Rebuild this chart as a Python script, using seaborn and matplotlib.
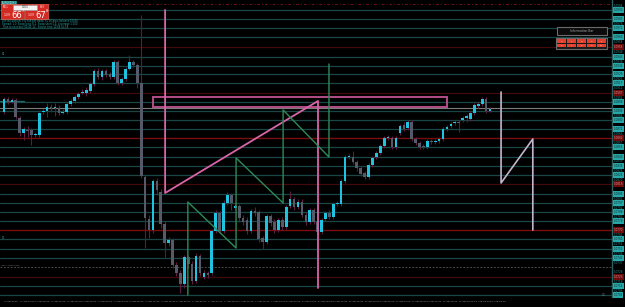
import numpy as np
import pandas as pd
import matplotlib
matplotlib.use("Agg")
import matplotlib.pyplot as plt
import matplotlib.transforms as mtransforms
from matplotlib.patches import Rectangle
import seaborn as sns

# ---------------- data (prices in points, price = pts / 10000) ----------------
opens = [10888, 10901, 10898, 10900, 10882, 10867, 10870, 10870, 10865, 10865,
         10888, 10889, 10893, 10892, 10892, 10887, 10888, 10896, 10899, 10903,
         10907, 10907, 10909, 10916, 10929, 10923, 10929, 10926, 10923, 10938,
         10917, 10921, 10931, 10938, 10935, 10917, 10823, 10781, 10770, 10819,
         10808, 10776, 10757, 10760, 10735, 10727, 10716, 10743, 10736, 10719,
         10744, 10723, 10727, 10727, 10769, 10787, 10769, 10797, 10805, 10792,
         10794, 10782, 10780, 10769, 10789, 10788, 10762, 10758, 10784, 10778,
         10770, 10780, 10773, 10794, 10801, 10793, 10798, 10785, 10778, 10790,
         10778, 10768, 10781, 10787, 10783, 10796, 10796, 10819, 10843, 10843,
         10838, 10832, 10827, 10823, 10835, 10843, 10847, 10854, 10862, 10862,
         10853, 10867, 10875, 10872, 10878, 10861, 10857, 10854, 10853, 10859,
         10858, 10859, 10861, 10871, 10874, 10877, 10878, 10880, 10882, 10881,
         10887, 10894, 10896, 10901, 10889]
closes = [10901, 10898, 10900, 10883, 10867, 10871, 10869, 10865, 10865, 10887,
          10889, 10893, 10892, 10892, 10887, 10888, 10896, 10899, 10903, 10906,
          10908, 10910, 10916, 10929, 10923, 10929, 10925, 10923, 10938, 10917,
          10921, 10931, 10938, 10935, 10917, 10824, 10782, 10770, 10819, 10810,
          10776, 10757, 10760, 10735, 10727, 10716, 10743, 10736, 10719, 10744,
          10727, 10727, 10725, 10769, 10787, 10769, 10797, 10805, 10797, 10794,
          10782, 10778, 10769, 10789, 10787, 10761, 10758, 10784, 10777, 10770,
          10780, 10773, 10793, 10801, 10793, 10798, 10785, 10778, 10790, 10778,
          10768, 10780, 10787, 10783, 10796, 10797, 10819, 10843, 10844, 10838,
          10832, 10826, 10823, 10835, 10842, 10847, 10854, 10862, 10862, 10853,
          10862, 10874, 10871, 10878, 10861, 10857, 10853, 10853, 10859, 10858,
          10859, 10861, 10871, 10873, 10876, 10878, 10877, 10882, 10884, 10887,
          10895, 10896, 10901, 10889, 10891]
highs = [10903, 10903, 10902, 10902, 10884, 10873, 10874, 10872, 10868, 10888,
         10891, 10897, 10896, 10897, 10895, 10891, 10898, 10901, 10905, 10908,
         10911, 10913, 10918, 10931, 10932, 10931, 10931, 10928, 10940, 10940,
         10923, 10933, 10945, 10940, 10937, 10985, 10825, 10785, 10821, 10822,
         10811, 10779, 10763, 10762, 10738, 10730, 10745, 10745, 10739, 10747,
         10746, 10730, 10729, 10771, 10790, 10789, 10800, 10808, 10807, 10797,
         10796, 10785, 10783, 10791, 10793, 10790, 10764, 10786, 10786, 10781,
         10782, 10783, 10795, 10809, 10803, 10801, 10801, 10788, 10792, 10792,
         10780, 10782, 10789, 10790, 10798, 10799, 10821, 10845, 10846, 10849,
         10840, 10834, 10829, 10837, 10844, 10849, 10856, 10864, 10865, 10864,
         10864, 10876, 10878, 10880, 10880, 10863, 10859, 10856, 10861, 10861,
         10861, 10863, 10873, 10875, 10878, 10880, 10880, 10884, 10886, 10889,
         10897, 10898, 10903, 10903, 10893]
lows = [10886, 10896, 10897, 10881, 10864, 10860, 10863, 10855, 10863, 10863,
        10886, 10883, 10888, 10884, 10885, 10886, 10886, 10894, 10897, 10901,
        10906, 10904, 10907, 10914, 10921, 10920, 10923, 10921, 10921, 10915,
        10915, 10919, 10930, 10933, 10912, 10822, 10752, 10762, 10767, 10805,
        10772, 10743, 10754, 10732, 10724, 10707, 10712, 10732, 10716, 10717,
        10724, 10721, 10722, 10725, 10767, 10767, 10767, 10795, 10790, 10790,
        10778, 10775, 10766, 10767, 10784, 10758, 10751, 10756, 10774, 10767,
        10768, 10770, 10771, 10792, 10790, 10791, 10783, 10775, 10776, 10776,
        10766, 10766, 10779, 10781, 10781, 10794, 10794, 10817, 10841, 10836,
        10829, 10824, 10821, 10821, 10833, 10841, 10845, 10852, 10860, 10851,
        10851, 10865, 10869, 10870, 10859, 10855, 10851, 10851, 10851, 10856,
        10856, 10857, 10859, 10869, 10872, 10875, 10868, 10878, 10878, 10879,
        10885, 10892, 10894, 10887, 10888]

teal_levels = [10990, 10981, 10972, 10963, 10943, 10934, 10926, 10917, 10898,
               10889, 10880, 10871, 10853, 10843, 10834, 10825, 10806, 10797,
               10788, 10779, 10761, 10751, 10742, 10714, 10705]
red_levels = [10953, 10907, 10816, 10723]
bright_red_levels = [10862, 10770]
dashed_level = 10733
bid_level = 10892
top_level = 10996

pink_x = [41.1, 41.1, 80.1, 80.1]
pink_y = [10990, 10807, 10899, 10712]
green_x = [46.9, 46.9, 59.2, 59.2, 71.2, 71.2, 82.9, 82.9]
green_y = [10705, 10798, 10752, 10842, 10797, 10890, 10843, 10936]
lav_x = [126.8, 126.8, 134.9, 134.9]
lav_y = [10908, 10817, 10861, 10770]
zone_x = [38.0, 113.0]
zone_y = [10893, 10903]

date_labels = ["3 Aug 2023", "3 Aug 04:00", "3 Aug 08:00", "3 Aug 12:00",
               "3 Aug 16:00", "3 Aug 20:00", "4 Aug 00:00", "4 Aug 04:00",
               "4 Aug 08:00", "4 Aug 12:00", "4 Aug 16:00", "4 Aug 20:00",
               "7 Aug 00:00", "7 Aug 04:00", "7 Aug 08:00", "7 Aug 12:00",
               "7 Aug 16:00", "7 Aug 20:00", "8 Aug 00:00", "8 Aug 04:00",
               "8 Aug 08:00", "8 Aug 12:00", "8 Aug 16:00", "8 Aug 20:00",
               "9 Aug 00:00", "9 Aug 04:00", "9 Aug 08:00", "9 Aug 12:00",
               "9 Aug 16:00", "9 Aug 20:00", "10 Aug 00:00", "10 Aug 04:00"]
date_ticks = list(range(0, 125, 4))

# ---------------- style ----------------
sns.set_theme(style="dark", rc={"axes.facecolor": "black", "figure.facecolor": "black"})
plt.rcParams["font.family"] = ["DejaVu Sans"]

df = pd.DataFrame({"o": opens, "c": closes, "h": highs, "l": lows})
df["i"] = np.arange(len(df))
df["bull"] = df["c"] >= df["o"]

W, H = 625, 307
fig = plt.figure(figsize=(6.25, 3.07), dpi=100, facecolor="black")
ax = fig.add_axes([0, 10 / H, 612 / W, 297 / H])
ax.set_facecolor("black")
ax.grid(False)
ax.set_xlim(-4 / 3.92, 608 / 3.92)
ax.set_ylim(10703, 11000)

# horizontal levels
for lv in teal_levels:
    ax.axhline(lv, color="#1b4646", lw=0.9, zorder=1)
for lv in red_levels:
    ax.axhline(lv, color="#420a0a", lw=0.9, zorder=1)
for lv in bright_red_levels:
    ax.axhline(lv, color="#7a0e0e", lw=1.0, zorder=1)
ax.axhline(dashed_level, color="#4a4a4a", lw=0.7, ls=(0, (2, 1.5)), zorder=1)
ax.axhline(top_level, color="#6a1414", lw=0.7, ls=(0, (3, 2, 1, 2)), zorder=1)
ax.axhline(bid_level, color="#7c7c7c", lw=0.8, zorder=2)
ax.plot([-1, 5], [10899, 10899], color="#1f6a6a", lw=0.9, zorder=2)

# candles
ax.vlines(df["i"], df["l"], df["h"], color="#5e1d40", lw=0.8, zorder=3)
body_bot = df[["o", "c"]].min(axis=1)
body_h = np.maximum((df["c"] - df["o"]).abs(), 0.9)
colors = np.where(df["bull"], "#1fc3df", "#565a68")
ax.bar(df["i"], body_h, bottom=body_bot, width=0.68, color=colors, linewidth=0, zorder=4)

# zone rectangle
ax.add_patch(Rectangle((zone_x[0], zone_y[0]), zone_x[1] - zone_x[0], zone_y[1] - zone_y[0],
                       fill=False, edgecolor="#b44e88", lw=1.4, zorder=5))

# zigzags
sns.lineplot(x=pink_x, y=pink_y, sort=False, estimator=None, color="#d865a8", lw=1.3,
             ax=ax, legend=False, zorder=6)
sns.lineplot(x=green_x, y=green_y, sort=False, estimator=None, color="#2e8a58", lw=1.0,
             ax=ax, legend=False, zorder=6)
sns.lineplot(x=lav_x, y=lav_y, sort=False, estimator=None, color="#c4b4cc", lw=1.2,
             ax=ax, legend=False, zorder=6)

# axes cosmetics
for s in ["top", "left", "bottom"]:
    ax.spines[s].set_visible(False)
ax.spines["right"].set_color("#2a6060")
ax.spines["right"].set_linewidth(1.0)
ax.set_yticks([])
ax.set_xticks(date_ticks)
ax.set_xticklabels(date_labels, fontsize=1.75, color="#a8a8a8", ha="left")
ax.tick_params(axis="x", length=1.5, color="#2a6060", pad=1.5)

# right price scale
trans = mtransforms.blended_transform_factory(fig.transFigure, ax.transData)
plain_levels = [10994, 10976, 10958, 10948, 10938, 10921, 10912, 10902, 10884, 10866,
                10857, 10839, 10829, 10820, 10801, 10792, 10783, 10765, 10756, 10746,
                10737, 10728, 10718, 10709]
for lv in plain_levels:
    fig.text(614 / W, lv, f"{lv / 10000:.4f}", transform=trans, fontsize=2.0,
             color="#3a8c8c", va="center", ha="left")
for lv in teal_levels:
    fig.text(613.5 / W, lv, f"{lv / 10000:.4f}", transform=trans, fontsize=2.0,
             color="#0c2a2a", va="center", ha="left",
             bbox=dict(boxstyle="square,pad=0.25", fc="#27a8a8", ec="none"))
for lv in red_levels + bright_red_levels:
    fig.text(613.5 / W, lv, f"{lv / 10000:.4f}", transform=trans, fontsize=2.0,
             color="#d09090", va="center", ha="left",
             bbox=dict(boxstyle="square,pad=0.25", fc="#6e0c0c", ec="none"))


def fx(x):
    return x / W


def fy(y):
    return 1 - y / H


# top-left panel
fig.patches.append(Rectangle((fx(1), fy(4.5)), 16 / W, 3.5 / H, transform=fig.transFigure,
                             fc="#1a8080", ec="none"))
fig.text(fx(2), fy(2.8), "EURUSD,H1", fontsize=1.8, color="#d0f0f0", va="center")
fig.patches.append(Rectangle((fx(1), fy(19)), 23 / W, 14.5 / H, transform=fig.transFigure,
                             fc="#d42a24", ec="#ff7060", lw=0.4))
fig.patches.append(Rectangle((fx(25), fy(19)), 23 / W, 14.5 / H, transform=fig.transFigure,
                             fc="#d42a24", ec="#ff7060", lw=0.4))
fig.patches.append(Rectangle((fx(13), fy(9.5)), 24 / W, 4.5 / H, transform=fig.transFigure,
                             fc="#f2f2f2", ec="#9a9a9a", lw=0.4))
fig.text(fx(25), fy(7.2), "0.01", fontsize=2.2, color="#303030", ha="center", va="center")
fig.text(fx(3), fy(7), "SELL", fontsize=1.8, color="#ffe0e0", va="center")
fig.text(fx(39.5), fy(7), "BUY", fontsize=1.8, color="#ffe0e0", va="center")
fig.text(fx(4), fy(15.5), "1.09", fontsize=2.2, color="#ffe6e6", va="center")
fig.text(fx(11), fy(15), "66", fontsize=6.0, color="#ffffff", va="center")
fig.text(fx(21.3), fy(11.0), "7", fontsize=2.6, color="#ffffff", va="center")
fig.text(fx(28), fy(15.5), "1.09", fontsize=2.2, color="#ffe6e6", va="center")
fig.text(fx(35), fy(15), "67", fontsize=6.0, color="#ffffff", va="center")
fig.text(fx(45.3), fy(11.0), "8", fontsize=2.6, color="#ffffff", va="center")
fig.text(fx(2), fy(20.8), "Lot calculation: 1% risk per trade, SL 20 pips, balance 10000",
         fontsize=1.8, color="#2aa8a8", va="center")
fig.text(fx(2), fy(23.8), "Spread: 1.0  Swap long -6.2  Swap short 1.4  Leverage 1:100",
         fontsize=1.8, color="#2aa8a8", va="center")
fig.text(fx(2), fy(26.8), "Time to next bar: 00:41:12   Server time 10.08 05:18",
         fontsize=1.8, color="#2aa8a8", va="center")

# left-side small texts
fig.text(fx(1.5), fy(54), "R2", fontsize=1.8, color="#2aa8a8", va="center")
fig.text(fx(1.5), fy(238), "S1", fontsize=1.8, color="#2aa8a8", va="center")
fig.text(fx(1.5), fy(266), "Daily Open Level", fontsize=1.6, color="#7a7a7a", va="center")

# top-right information box and button grid
fig.patches.append(Rectangle((fx(557), fy(35)), 50 / W, 8 / H, transform=fig.transFigure,
                             fc="#0b0b0b", ec="#6a6a6a", lw=0.8))
fig.text(fx(582), fy(31), "Information Bar", fontsize=2.2, color="#a8a8a8",
         ha="center", va="center")
fig.patches.append(Rectangle((fx(555.5), fy(48.5)), 51.5 / W, 10.5 / H,
                             transform=fig.transFigure, fc="#1a1a1a", ec="#6a6a6a", lw=0.8))
grid_labels = [["+", "2", "3", "4", "5"], ["6", "7", "8", "9", "10"]]
for r in range(2):
    for cidx in range(5):
        x0 = 557 + cidx * 10
        y0 = 39.5 + r * 4.3
        fig.patches.append(Rectangle((fx(x0), fy(y0 + 3.6)), 9.3 / W, 3.6 / H,
                                     transform=fig.transFigure, fc="#e2402e", ec="none"))
        fig.text(fx(x0 + 4.6), fy(y0 + 1.8), grid_labels[r][cidx], fontsize=1.6,
                 color="#ffe0e0", ha="center", va="center")

fig.text(fx(606), fy(295), "0.0", fontsize=1.8, color="#7a7a7a", ha="right", va="center")

fig.savefig("out.png", dpi=100, facecolor="black")
